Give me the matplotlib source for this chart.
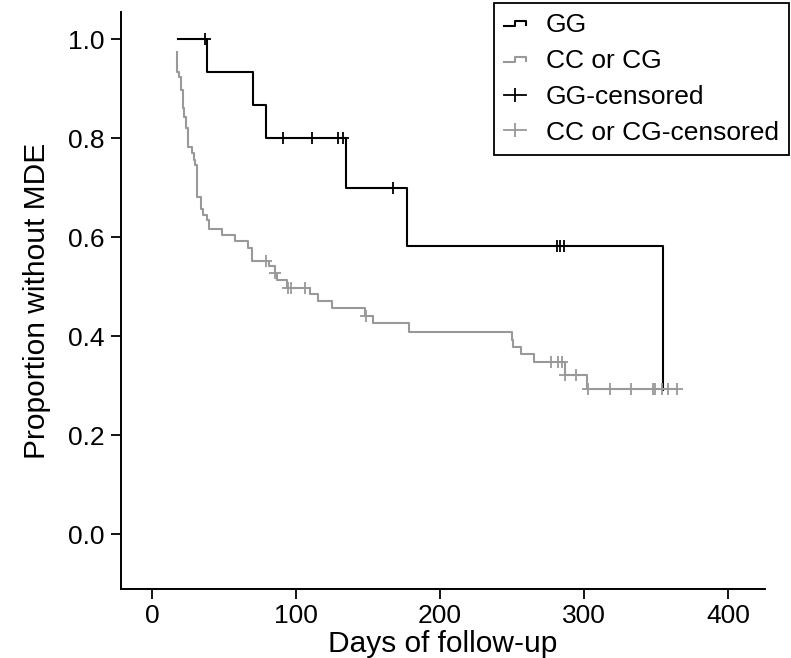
import matplotlib
matplotlib.use("Agg")
import matplotlib.pyplot as plt
from matplotlib.lines import Line2D
from matplotlib.legend_handler import HandlerBase

plt.rcParams["font.family"] = ["Liberation Sans", "DejaVu Sans"]

# Kaplan-Meier step data
gg_days = [18, 38, 70, 79, 135, 177, 355]
gg_surv = [1.0, 0.933, 0.867, 0.8, 0.7, 0.583, 0.292]
gg_cens_days = [37, 91, 111, 129.5, 132.5, 167.5, 281, 283.5, 286]
gg_cens_surv = [1.0, 0.8, 0.8, 0.8, 0.8, 0.7, 0.583, 0.583, 0.583]

cc_days = [17.6, 17.6, 18.8, 20.1, 21.3, 22.4, 23.5, 25.2, 27.6, 29.2, 30.2,
           31.5, 33.8, 35.6, 38.0, 39.8, 48.8, 57.8, 66.9, 69.2, 81.5, 85.5,
           86.6, 93.5, 109.7, 115.5, 124.8, 148.0, 153.7, 178.7, 249.8, 250.9,
           256.0, 265.3, 287.0, 302.3, 364.4]
cc_surv = [0.975, 0.933, 0.923, 0.897, 0.860, 0.843, 0.820, 0.782, 0.770, 0.756,
           0.745, 0.682, 0.656, 0.644, 0.634, 0.616, 0.604, 0.593, 0.578, 0.552,
           0.541, 0.527, 0.514, 0.498, 0.486, 0.471, 0.456, 0.441, 0.426, 0.409,
           0.392, 0.378, 0.363, 0.347, 0.321, 0.293, 0.293]
cc_cens_days = [79.2, 85.5, 94.2, 96.3, 106.3, 148.6, 276.9, 281.9, 285.0, 287.0,
                294.2, 303.0, 318.0, 332.4, 348.1, 349.0, 354.4, 358.5, 364.4]
cc_cens_surv = [0.552, 0.527, 0.498, 0.498, 0.498, 0.441, 0.347, 0.347, 0.347,
                0.321, 0.321, 0.293, 0.293, 0.293, 0.293, 0.293, 0.293, 0.293, 0.293]

gray = "#999999"


class StepHandler(HandlerBase):
    # small step glyph like the one in the original legend
    def create_artists(self, legend, orig, xd, yd, w, h, fs, trans):
        xs = [xd, xd + 0.5 * w, xd + 0.5 * w, xd + w, xd + w]
        ys = [yd + 0.3 * h, yd + 0.3 * h, yd + 0.6 * h, yd + 0.6 * h, yd + 0.4 * h]
        ln = Line2D(xs, ys, color=orig.get_color(), lw=orig.get_linewidth())
        ln.set_transform(trans)
        return [ln]


fig = plt.figure(figsize=(7.91, 6.58), dpi=100)
ax = fig.add_axes([121 / 791, 1 - 589 / 658, (765 - 121) / 791, (589 - 12) / 658])

l_gg, = ax.step(gg_days, gg_surv, where="post", color="black", lw=1.5)
l_cc, = ax.step(cc_days, cc_surv, where="post", color=gray, lw=1.5)
ax.plot(gg_cens_days, gg_cens_surv, ls="none", marker="+", ms=8,
        mew=1.3, color="black")
ax.plot(cc_cens_days, cc_cens_surv, ls="none", marker="+", ms=8,
        mew=1.3, color=gray)

ax.set_xlim(-21.5, 425.7)
ax.set_ylim(-0.111, 1.055)
ax.set_xticks([0, 100, 200, 300, 400])
ax.set_yticks([0.0, 0.2, 0.4, 0.6, 0.8, 1.0])
ax.set_yticklabels(["0.0", "0.2", "0.4", "0.6", "0.8", "1.0"])
for s in ["top", "right"]:
    ax.spines[s].set_visible(False)
for s in ["left", "bottom"]:
    ax.spines[s].set_linewidth(1.4)
ax.tick_params(axis="y", length=7, width=1.3, labelsize=19, pad=5)
ax.tick_params(axis="x", length=7, width=1.3, labelsize=19, pad=4)
ax.set_xlabel("Days of follow-up", fontsize=21.5, labelpad=1)
ax.set_ylabel("Proportion without MDE", fontsize=21.5, labelpad=12)

h_gg_c = Line2D([], [], color="black", lw=1.3, marker="|", ms=10, mew=1.3)
h_cc_c = Line2D([], [], color=gray, lw=1.3, marker="|", ms=10, mew=1.3)
leg = ax.legend([l_gg, l_cc, h_gg_c, h_cc_c],
                ["GG", "CC or CG", "GG-censored", "CC or CG-censored"],
                handler_map={l_gg: StepHandler(), l_cc: StepHandler()},
                loc="upper right", bbox_to_anchor=(789 / 791, 1 - 3 / 658),
                bbox_transform=fig.transFigure, fontsize=19, fancybox=False,
                framealpha=1, edgecolor="black", handlelength=0.85,
                handletextpad=0.75, labelspacing=0.45, borderpad=0.38,
                borderaxespad=0)
leg.get_frame().set_linewidth(1.3)

fig.savefig("out.png", dpi=100)
